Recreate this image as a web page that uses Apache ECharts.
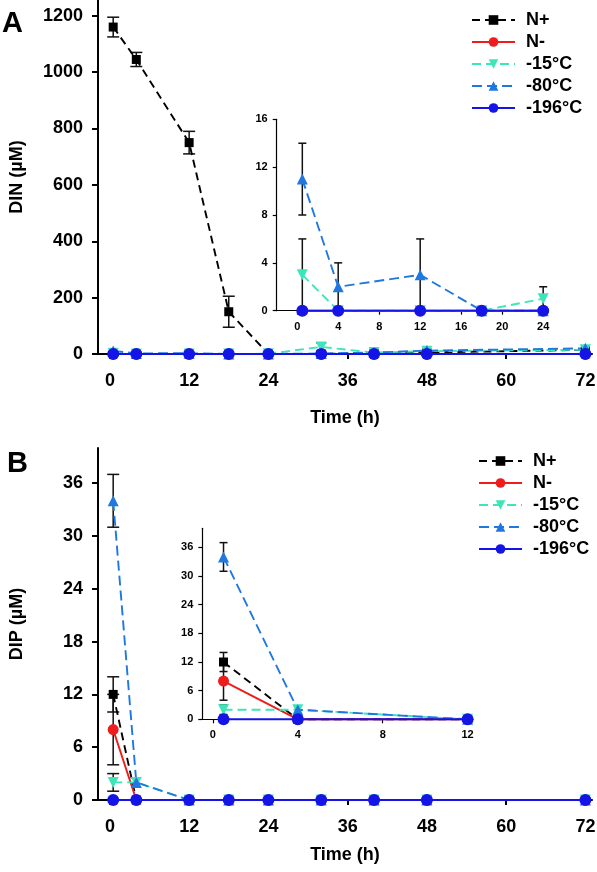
<!DOCTYPE html>
<html>
<head>
<meta charset="utf-8">
<script src="https://cdn.jsdelivr.net/npm/echarts@6/dist/echarts.min.js"></script>
<style>html,body{margin:0;padding:0;background:#fff;}#c{width:597px;height:872px;}</style>
</head>
<body>
<div id="c"></div>
<script>
// ---------- data ----------
const seriesNames = ['N+', 'N-', '-15°C', '-80°C', '-196°C'];
const timeMain = [0.5, 4, 12, 18, 24, 32, 40, 48, 72];
const xTicksMain = [0, 12, 24, 36, 48, 60, 72];

// Panel A : DIN (µM)
const dinNplus   = [1160, 1045, 750, 150, 0, 0, 3, 5, 15];
const dinNminus  = [0, 0, 0, 0, 0, 0, 0, 0, 0];
const din15      = [3, 0, 0, 0, 1, 25, 5, 10, 15];
const din80      = [11, 2, 3, 0, 0, 2, 5, 12, 20];
const din196     = [0, 0, 0, 0, 0, 0, 0, 0, 0];
const dinNplusErr = [35, 25, 40, 55, 0, 0, 0, 0, 0];
const din15Err    = [3, 0, 0, 0, 1, 15, 0, 0, 0];
const din80Err    = [3, 2, 3, 0, 0, 0, 0, 0, 0];
const yTicksDIN   = [0, 200, 400, 600, 800, 1000, 1200];
const insetACount = 5; // points 0.5 .. 24 h
const xTicksInsetA = [0, 4, 8, 12, 16, 20, 24];
const yTicksInsetA = [0, 4, 8, 12, 16];

// Panel B : DIP (µM)
const dipNplus   = [12, 0, 0, 0, 0, 0, 0, 0, 0];
const dipNminus  = [8, 0, 0, 0, 0, 0, 0, 0, 0];
const dip15      = [2, 2, 0, 0, 0, 0, 0, 0, 0];
const dip80      = [34, 2, 0, 0, 0, 0, 0, 0, 0];
const dip196     = [0, 0, 0, 0, 0, 0, 0, 0, 0];
const dipNplusErr  = [2, 0, 0, 0, 0, 0, 0, 0, 0];
const dipNminusErr = [4, 0, 0, 0, 0, 0, 0, 0, 0];
const dip15Err     = [1, 0, 0, 0, 0, 0, 0, 0, 0];
const dip80Err     = [3, 0, 0, 0, 0, 0, 0, 0, 0];
const yTicksDIP    = [0, 6, 12, 18, 24, 30, 36];
const insetBCount  = 3; // points 0.5 .. 12 h
const xTicksInsetB = [0, 4, 8, 12];
const yTicksInsetB = [0, 6, 12, 18, 24, 30, 36];

// ---------- styles ----------
const FONT = '"Liberation Sans", Arial, Helvetica, sans-serif';
const styles = [
  {color: '#000000', symbol: 'rect', size: 9, rot: 0, type: [8, 5]},
  {color: '#ee1c1c', symbol: 'circle', size: 11, rot: 0, type: 'solid'},
  {color: '#3de6b9', symbol: 'triangle', size: 11, rot: 180, type: [9, 5]},
  {color: '#1f78e0', symbol: 'triangle', size: 11, rot: 0, type: [10, 5]},
  {color: '#1414e6', symbol: 'circle', size: 12, rot: 0, type: 'solid'}
];

function pairs(xs, ys, n) {
  const out = [];
  for (let i = 0; i < n; i++) out.push([xs[i], ys[i]]);
  return out;
}
function errRows(xs, ys, es, n) {
  const out = [];
  for (let i = 0; i < n; i++) if (es[i] > 0) out.push([xs[i], Math.max(0, ys[i] - es[i]), ys[i] + es[i]]);
  return out;
}
function lineSeries(idx, gridIdx, ys, n) {
  const s = styles[idx];
  return {
    type: 'line', name: seriesNames[idx],
    xAxisIndex: gridIdx, yAxisIndex: gridIdx,
    data: pairs(timeMain, ys, n),
    symbol: s.symbol, symbolSize: s.size, symbolRotate: s.rot,
    showAllSymbol: true, animation: false, z: 3, clip: false,
    lineStyle: {color: s.color, width: 1.9, type: s.type},
    itemStyle: {color: s.color, borderWidth: 0}
  };
}
function errSeries(gridIdx, rows, capW) {
  return {
    type: 'custom', xAxisIndex: gridIdx, yAxisIndex: gridIdx, z: 2,
    animation: false, silent: true, clip: false,
    data: rows,
    renderItem: function (params, api) {
      const x = api.value(0), lo = api.value(1), hi = api.value(2);
      const p1 = api.coord([x, lo]), p2 = api.coord([x, hi]);
      const st = {stroke: '#111', lineWidth: 1.5};
      return {type: 'group', children: [
        {type: 'line', shape: {x1: p1[0], y1: p1[1], x2: p2[0], y2: p2[1]}, style: st},
        {type: 'line', shape: {x1: p1[0] - capW, y1: p1[1], x2: p1[0] + capW, y2: p1[1]}, style: st},
        {type: 'line', shape: {x1: p2[0] - capW, y1: p2[1], x2: p2[0] + capW, y2: p2[1]}, style: st}
      ]};
    }
  };
}
function plain(v) { return String(v); }
function xAxis(gridIdx, min, max, ticks, main, nameGap, margin) {
  return {
    type: 'value', gridIndex: gridIdx, min: min, max: max,
    name: main ? 'Time (h)' : '', nameLocation: 'middle', nameGap: nameGap || 0,
    nameTextStyle: {fontFamily: FONT, fontWeight: 'bold', fontSize: 18, color: '#000'},
    splitLine: {show: false},
    axisLine: {show: true, onZero: false, lineStyle: {color: '#000', width: main ? 2 : 1.2}},
    axisTick: {show: true, inside: false, length: main ? 5 : 4, customValues: ticks,
               lineStyle: {color: '#000', width: main ? 2 : 1.2}},
    axisLabel: {customValues: ticks, formatter: plain, margin: margin, fontFamily: FONT, fontWeight: 'bold',
                fontSize: main ? 18 : 11, color: '#000'}
  };
}
function yAxis(gridIdx, min, max, ticks, main, name, nameGap, margin) {
  return {
    type: 'value', gridIndex: gridIdx, min: min, max: max,
    name: name || '', nameLocation: 'middle', nameGap: nameGap || 0, nameRotate: 90,
    nameTextStyle: {fontFamily: FONT, fontWeight: 'bold', fontSize: 18, color: '#000'},
    splitLine: {show: false},
    axisLine: {show: true, onZero: false, lineStyle: {color: '#000', width: main ? 2 : 1.2}},
    axisTick: {show: true, inside: false, length: main ? 6 : 4, customValues: ticks,
               lineStyle: {color: '#000', width: main ? 2 : 1.2}},
    axisLabel: {customValues: ticks, formatter: plain, margin: margin, fontFamily: FONT, fontWeight: 'bold',
                fontSize: main ? 18 : 11, color: '#000'}
  };
}

const series = [];
const dinSets = [dinNplus, dinNminus, din15, din80, din196];
const dipSets = [dipNplus, dipNminus, dip15, dip80, dip196];
// grid 0 : main A
series.push(errSeries(0, errRows(timeMain, dinNplus, dinNplusErr, 9), 6));
series.push(errSeries(0, errRows(timeMain, din15, din15Err, 9), 5));
dinSets.forEach((d, i) => series.push(lineSeries(i, 0, d, 9)));
// grid 1 : inset A (N+ off scale, not drawn)
series.push(errSeries(1, errRows(timeMain, din15, din15Err, insetACount), 4));
series.push(errSeries(1, errRows(timeMain, din80, din80Err, insetACount), 4));
dinSets.forEach((d, i) => { if (i > 0) series.push(lineSeries(i, 1, d, insetACount)); });
// grid 2 : main B
series.push(errSeries(2, errRows(timeMain, dipNplus, dipNplusErr, 9), 6));
series.push(errSeries(2, errRows(timeMain, dipNminus, dipNminusErr, 9), 6));
series.push(errSeries(2, errRows(timeMain, dip15, dip15Err, 9), 6));
series.push(errSeries(2, errRows(timeMain, dip80, dip80Err, 9), 6));
dipSets.forEach((d, i) => series.push(lineSeries(i, 2, d, 9)));
// grid 3 : inset B
series.push(errSeries(3, errRows(timeMain, dipNplus, dipNplusErr, insetBCount), 4));
series.push(errSeries(3, errRows(timeMain, dipNminus, dipNminusErr, insetBCount), 4));
series.push(errSeries(3, errRows(timeMain, dip15, dip15Err, insetBCount), 4));
series.push(errSeries(3, errRows(timeMain, dip80, dip80Err, insetBCount), 4));
dipSets.forEach((d, i) => series.push(lineSeries(i, 3, d, insetBCount)));

function legend(left, top) {
  return {
    show: true, orient: 'vertical', left: left, top: top, padding: 0,
    itemWidth: 43, itemHeight: 12, itemGap: 4, selectedMode: false,
    data: seriesNames,
    textStyle: {fontFamily: FONT, fontWeight: 'bold', fontSize: 18, color: '#000', lineHeight: 18, padding: [0, 0, 0, 6]}
  };
}

const option = {
  backgroundColor: '#fff',
  animation: false,
  grid: [
    {left: 98, top: 0, width: 494, height: 354, outerBoundsMode: 'none'},
    {left: 276.7, top: 119.3, width: 271.6, height: 191.4, outerBoundsMode: 'none'},
    {left: 98, top: 448, width: 494, height: 352, outerBoundsMode: 'none'},
    {left: 202.3, top: 528.3, width: 270.6, height: 191, outerBoundsMode: 'none'}
  ],
  xAxis: [
    xAxis(0, -1.8, 73, xTicksMain, true, 55, 18),
    xAxis(1, -2, 24.5, xTicksInsetA, false, 0, 11),
    xAxis(2, -1.8, 73, xTicksMain, true, 46, 18),
    xAxis(3, -0.5, 12.25, xTicksInsetB, false, 0, 10)
  ],
  yAxis: [
    yAxis(0, 0, 1256, yTicksDIN, true, 'DIN (µM)', 72, 15),
    yAxis(1, 0, 16, yTicksInsetA, false, '', 0, 9),
    yAxis(2, 0, 40, yTicksDIP, true, 'DIP (µM)', 72, 15),
    yAxis(3, 0, 40, yTicksInsetB, false, '', 0, 9)
  ],
  legend: [legend(471, 11), legend(478, 452)],
  graphic: [
    {type: 'text', left: 2, top: 9, style: {text: 'A', fontFamily: FONT, fontWeight: 'bold', fontSize: 29, fill: '#000'}},
    {type: 'text', left: 7, top: 449, style: {text: 'B', fontFamily: FONT, fontWeight: 'bold', fontSize: 29, fill: '#000'}}
  ],
  series: series
};

const chart = echarts.init(document.getElementById('c'), null, {renderer: 'canvas'});
chart.setOption(option);
</script>
</body>
</html>
